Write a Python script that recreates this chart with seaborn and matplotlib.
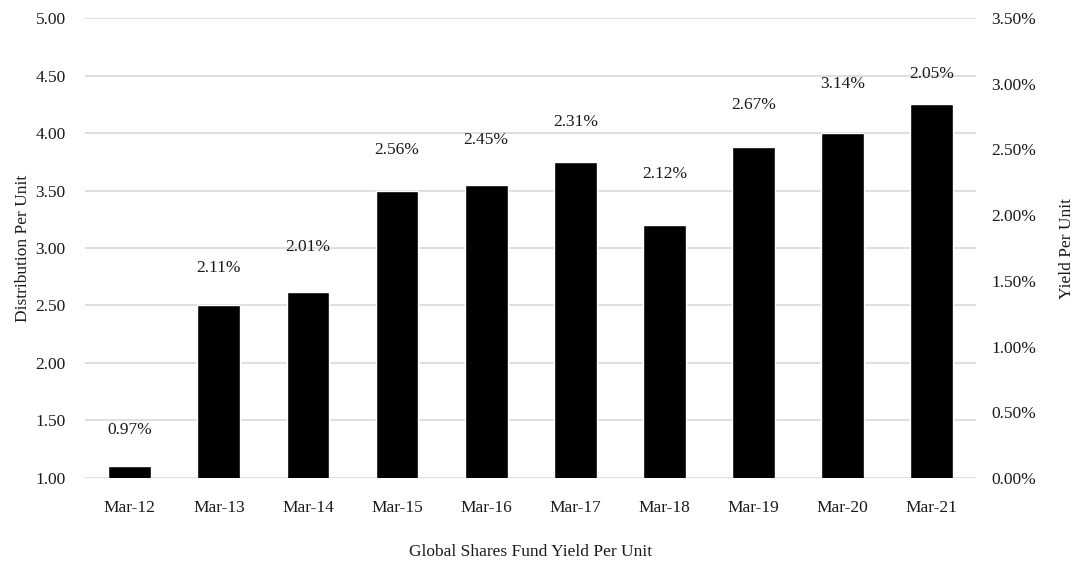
import numpy as np
import pandas as pd
import matplotlib
matplotlib.use("Agg")
import matplotlib.pyplot as plt
from matplotlib.ticker import FuncFormatter
import seaborn as sns

# Daten
periods = ["Mar-12", "Mar-13", "Mar-14", "Mar-15", "Mar-16",
           "Mar-17", "Mar-18", "Mar-19", "Mar-20", "Mar-21"]
distribution = [1.10, 2.50, 2.62, 3.50, 3.55, 3.75, 3.20, 3.88, 4.00, 4.25]
yield_pct = [0.97, 2.11, 2.01, 2.56, 2.45, 2.31, 2.12, 2.67, 3.14, 2.05]
# height of the yield labels (left axis units)
label_height = [1.42, 2.83, 3.01, 3.85, 3.94, 4.10, 3.64, 4.24, 4.43, 4.51]

df = pd.DataFrame({"period": periods, "distribution": distribution})

sns.set_style("white")
plt.rcParams["font.family"] = ["Liberation Serif", "DejaVu Serif"]
fs = 12.5
txt = "#1a1a1a"

fig = plt.figure(figsize=(10.92, 5.63), dpi=100)
ax = fig.add_axes([0.078, 0.151, 0.816, 0.817])

sns.barplot(data=df, x="period", y="distribution", color="black",
            width=0.48, ax=ax, zorder=3, saturation=1)

ax.set_ylim(1.0, 5.0)
ax.set_yticks(np.arange(1.0, 5.01, 0.5))
ax.yaxis.set_major_formatter(FuncFormatter(lambda v, p: f"{v:.2f}"))
ax.grid(axis="y", color="#d9d9d9", linewidth=1.2, zorder=0)
ax.set_axisbelow(True)
for s in ax.spines.values():
    s.set_visible(False)
ax.tick_params(axis="both", length=0, labelsize=fs, colors=txt)
ax.tick_params(axis="x", pad=16)
ax.tick_params(axis="y", pad=14)
ax.set_ylabel("Distribution Per Unit", fontsize=fs, color=txt, labelpad=3)
ax.set_xlabel("Global Shares Fund Yield Per Unit", fontsize=fs, color=txt, labelpad=20)

for i, (y, h) in enumerate(zip(yield_pct, label_height)):
    ax.text(i, h, f"{y:.2f}%", ha="center", va="center", fontsize=fs, color=txt)

ax2 = ax.twinx()
ax2.set_ylim(0, 0.035)
ax2.set_yticks(np.arange(0, 0.0351, 0.005))
ax2.yaxis.set_major_formatter(FuncFormatter(lambda v, p: f"{v*100:.2f}%"))
for s in ax2.spines.values():
    s.set_visible(False)
ax2.tick_params(axis="y", length=0, labelsize=fs, colors=txt, pad=11)
ax2.set_ylabel("Yield Per Unit", fontsize=fs, color=txt, labelpad=16)

fig.savefig("out.png", dpi=100)
